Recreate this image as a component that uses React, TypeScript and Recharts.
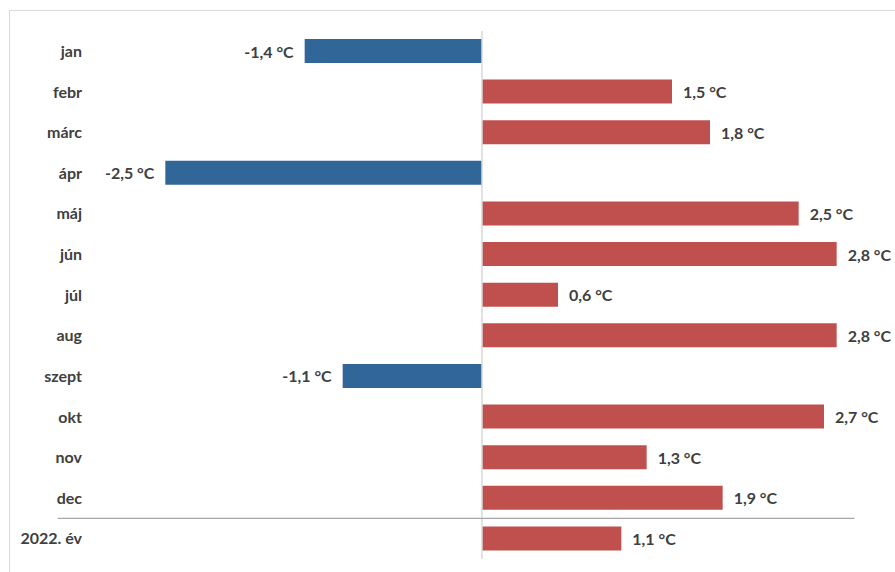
import { BarChart, Bar, XAxis, YAxis, Cell, LabelList, ReferenceLine } from "recharts";

const months = ["jan", "febr", "márc", "ápr", "máj", "jún", "júl", "aug", "szept", "okt", "nov", "dec", "2022. év"];
const anomalies = [-1.4, 1.5, 1.8, -2.5, 2.5, 2.8, 0.6, 2.8, -1.1, 2.7, 1.3, 1.9, 1.1];
const xTicks = [-3, 3];

const COLD = "#316699";
const WARM = "#c0504d";
const TEXT = "#404040";
const FONT = "Lato, 'Open Sans', sans-serif";

const data = months.map((name, i) => ({ name, value: anomalies[i] }));

const fmt = (v: number) => `${v.toFixed(1).replace(".", ",")} °C`;

const renderLabel = (props: any) => {
  const { x = 0, y = 0, width = 0, height = 0, value = 0 } = props;
  const left = Math.min(x, x + width);
  const right = Math.max(x, x + width);
  const neg = value < 0;
  return (
    <text
      x={neg ? left - 11 : right + 11}
      y={y + height / 2}
      fill={TEXT}
      textAnchor={neg ? "end" : "start"}
      dominantBaseline="central"
      fontSize={16}
      fontWeight="bold"
      fontFamily={FONT}
    >
      {fmt(value)}
    </text>
  );
};

const App = () => {
  return (
    <div style={{ position: "fixed", left: 0, top: 0, width: 895, height: 572, overflow: "hidden", background: "#fff" }}>
      <div
        style={{
          position: "absolute",
          left: 9,
          top: 10,
          width: 950,
          height: 620,
          border: "1px solid #d9d9d9",
        }}
      />
      <div style={{ position: "absolute", left: 0, top: 0 }}>
        <BarChart
          width={895}
          height={572}
          data={data}
          layout="vertical"
          margin={{ top: 31, right: 33, bottom: 13, left: 2 }}
        >
          <XAxis type="number" domain={[xTicks[0], xTicks[1]]} ticks={xTicks} hide />
          <YAxis
            type="category"
            dataKey="name"
            width={100}
            axisLine={false}
            tickLine={false}
            tickSize={0}
            tickMargin={20}
            interval={0}
            tick={{ fill: TEXT, fontSize: 16, fontWeight: "bold", fontFamily: FONT }}
          />
          <ReferenceLine x={0} stroke="#d9d9d9" strokeWidth={1.5} />
          <ReferenceLine
            segment={[
              { x: -3.35, y: "2022. év" },
              { x: 2.94, y: "2022. év" },
            ]}
            position="start"
            ifOverflow="visible"
            stroke="#a6a6a6"
            strokeWidth={1.2}
          />
          <Bar dataKey="value" barSize={24} isAnimationActive={false}>
            {data.map((d, i) => (
              <Cell key={`cell-${i}`} fill={d.value < 0 ? COLD : WARM} />
            ))}
            <LabelList dataKey="value" content={renderLabel} />
          </Bar>
        </BarChart>
      </div>
    </div>
  );
};

export default App;
